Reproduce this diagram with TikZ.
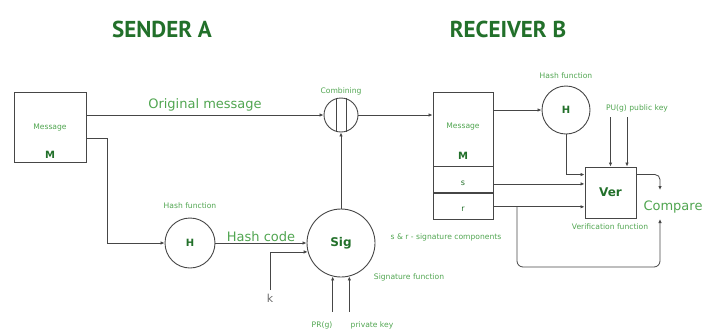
\documentclass[tikz,border=0pt]{standalone}
\usepackage{fontspec}
\setmainfont{DejaVu Sans}
\newfontfamily\titlefont{PT Sans}
\usetikzlibrary{arrows.meta}
\definecolor{darkgrn}{RGB}{34,112,42}
\definecolor{litegrn}{RGB}{80,165,80}
\definecolor{linegray}{RGB}{70,70,70}
\tikzset{
  ball/.style={circle, draw=linegray, line width=0.9pt, inner sep=0pt},
  box/.style={rectangle, draw=linegray, line width=0.9pt, inner sep=0pt},
  lbl/.style={text=litegrn, font=\fontsize{7.6}{9}\selectfont, inner sep=1pt},
  big/.style={text=litegrn, font=\fontsize{13}{15}\selectfont, inner sep=1pt},
  sym/.style={text=darkgrn, font=\bfseries\fontsize{10}{12}\selectfont, inner sep=1pt},
  ttl/.style={text=darkgrn, font=\titlefont\bfseries\fontsize{23}{25}\selectfont}
}
\begin{document}
\begin{tikzpicture}[x=1pt, y=-1pt, >={Latex[length=4pt,width=3.5pt]}, line width=0.8pt, draw=linegray]
    \useasboundingbox (0,0) rectangle (718,333);
    % titles
    \node[ttl] (sa) at (162,29) {SENDER A};
    \node[ttl] (rb) at (508,29) {RECEIVER B};
    % sender side
    \node[box, minimum width=72, minimum height=70] (mA) at (50,127) {};
    \node[lbl] (mAt) at (50,128) {Message};
    \node[sym] (mAm) at (50,155) {M};
    \node[ball, minimum size=34] (comb) at (341,115) {};
    \node[lbl] (combt) at (341,91) {Combining};
    \node[ball, minimum size=50] (hA) at (190,243) {};
    \node[sym] (hAt) at (190,243) {H};
    \node[lbl] (hAl) at (190,206) {Hash function};
    \node[ball, minimum size=68] (sig) at (341,243) {};
    \node[sym, font=\bfseries\fontsize{12}{14}\selectfont] (sigt) at (341,243) {Sig};
    \node[text=linegray!80, font=\fontsize{11}{13}\selectfont] (k) at (270,298) {k};
    \node[lbl] (pr) at (322,325) {PR(g)};
    \node[lbl] (pk) at (372,325) {private key};
    \node[lbl] (sr) at (446,237) {s \& r - signature components};
    \node[lbl] (sf) at (409,277) {Signature function};
    % receiver side
    \node[box, minimum width=60, minimum height=74] (mB) at (463,129) {};
    \node[box, minimum width=60, minimum height=26, anchor=north] (sB) at (mB.south) {};
    \node[box, minimum width=60, minimum height=26, anchor=north] (rB) at (sB.south) {};
    \node[lbl] (mBt) at (463,127) {Message};
    \node[sym] (mBm) at (463,156) {M};
    \node[lbl, text=darkgrn, font=\fontsize{8}{9}\selectfont] (sBt) at (463,183) {s};
    \node[lbl, text=darkgrn, font=\fontsize{8}{9}\selectfont] (rBt) at (463,209) {r};
    \node[ball, minimum size=48] (hB) at (566,110) {};
    \node[sym] (hBt) at (566,110) {H};
    \node[lbl] (hBl) at (566,76) {Hash function};
    \node[lbl] (pu) at (637,108) {PU(g) public key};
    \node[box, minimum width=51, minimum height=51] (ver) at (610.5,192.5) {};
    \node[sym, font=\bfseries\fontsize{12}{14}\selectfont] (vert) at (610.5,192.5) {Ver};
    \node[lbl] (vf) at (610,227) {Verification function};
    \node[big] (cmp) at (673,207) {Compare};
    \coordinate (cmpT) at (660,190);
    \coordinate (cmpB) at (660,219);
    \coordinate (rTap) at (517,206);
    \coordinate (loopC) at (660,267);
    \coordinate (bend) at (107,243);
    % connectors
    \draw [->] (mA.east |- comb.west) to node[big, above=2pt] {Original message} (comb.west);
    \draw (comb.107) -- (comb.253);
    \draw (comb.73) -- (comb.287);
    \draw [->] ([yshift=-11]mA.east) -| (bend) -- (hA.west);
    \draw [->] (hA.east) to node[big, above=0pt] {Hash code} (sig.west);
    \draw [->] (k.north) |- (sig.195);
    \draw [<-] (sig.256) -- ++(0,36);
    \draw [<-] (sig.284) -- ++(0,36);
    \draw [->] (sig.north) -- (comb.south);
    \draw [->] (comb.east) -- (comb.east -| mB.west);
    \draw [->] (mB.east |- hB.west) -- (hB.west);
    \draw [->] (hB.south) |- ([yshift=-8]ver.north west);
    \draw [->] ([yshift=-4]sB.east) -- ([yshift=-4]sB.east -| ver.west);
    \draw [->] (rB.east) -- (rB.east -| ver.west);
    \draw [<-] (ver.north) -- ++(0,-50);
    \draw [<-] ([xshift=16.5]ver.north) -- ++(0,-50);
    \draw [->, rounded corners=5] ([yshift=-8]ver.north east) -| (cmpT);
    \draw [->, rounded corners=6] (rTap) |- (loopC) -- (cmpB);
\end{tikzpicture}
\end{document}
